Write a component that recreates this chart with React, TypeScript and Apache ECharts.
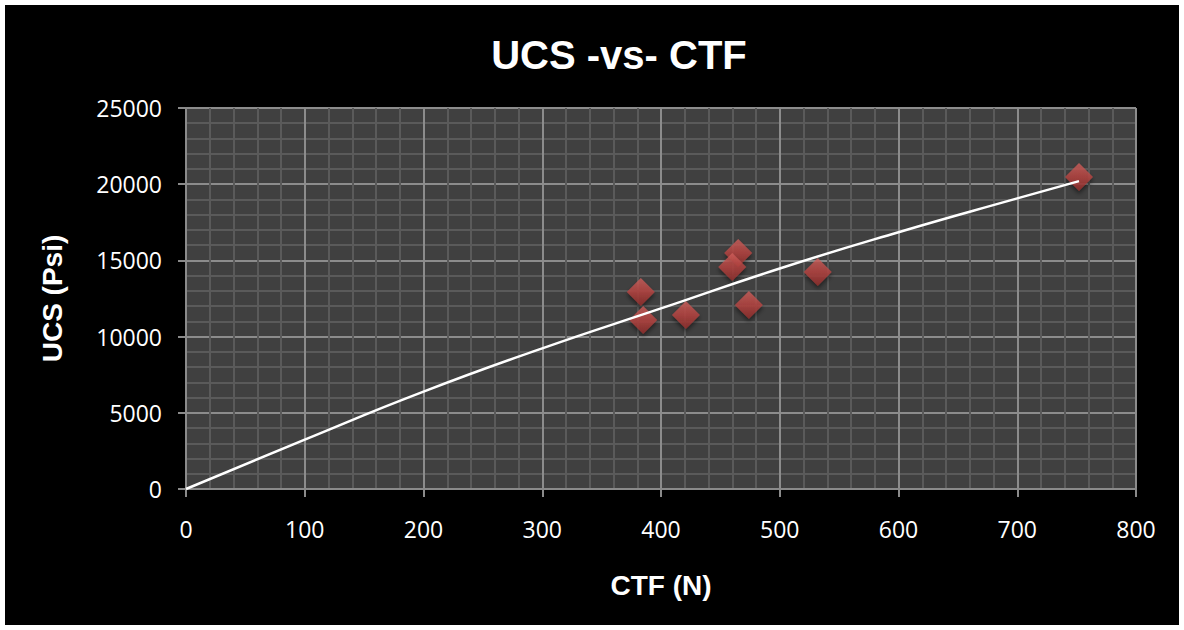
import React, { useEffect, useRef } from "react";
import * as echarts from "echarts";

const titleText = "UCS -vs- CTF";
const xName = "CTF (N)";
const yName = "UCS (Psi)";

const ctf = [383, 385, 421, 465, 460, 474, 532, 752];
const ucs = [12930, 11090, 11420, 15490, 14570, 12070, 14240, 20470];

const trendX = [0, 100, 200, 300, 400, 500, 600, 700, 752];
const trendY = [0, 3240, 6390, 9230, 11850, 14470, 16850, 19070, 20200];

const xTicks = { min: 0, max: 800, interval: 100 };
const yTicks = { min: 0, max: 25000, interval: 5000 };

export default function App() {
  const ref = useRef<HTMLDivElement>(null);
  useEffect(() => {
    if (!ref.current) return;
    const chart = echarts.init(ref.current, null, { renderer: "svg" });
    const tickFont = { color: "#ffffff", fontFamily: "Open Sans", fontSize: 23 };
    const nameFont = { color: "#ffffff", fontFamily: "Liberation Sans", fontSize: 28, fontWeight: "bold" as const };
    chart.setOption({
      animation: false,
      backgroundColor: "#ffffff",
      graphic: [
        { type: "rect", z: -10, shape: { x: 5, y: 5, width: 1174, height: 620 }, style: { fill: "#000000" } },
      ],
      title: {
        text: titleText,
        left: 614,
        textAlign: "center",
        top: 30,
        textStyle: { color: "#ffffff", fontFamily: "Liberation Sans", fontSize: 40, fontWeight: "bold" },
      },
      grid: {
        left: 186,
        right: 48,
        top: 108,
        bottom: 141,
        show: true,
        backgroundColor: "#404040",
        borderWidth: 0,
      },
      xAxis: {
        type: "value",
        min: xTicks.min,
        max: xTicks.max,
        interval: xTicks.interval,
        name: xName,
        nameLocation: "middle",
        nameGap: 82,
        nameTextStyle: nameFont,
        axisLine: { show: true, lineStyle: { color: "#8a8a8a", width: 2 } },
        axisTick: { show: true, length: 8, lineStyle: { color: "#8a8a8a", width: 2 } },
        axisLabel: { ...tickFont, margin: 28, formatter: (v: number) => String(v) },
        splitLine: { show: true, lineStyle: { color: "#8c8c8c", width: 2 } },
        minorTick: { show: false, splitNumber: 5 },
        minorSplitLine: { show: true, lineStyle: { color: "#5a5a5a", width: 2 } },
      },
      yAxis: {
        type: "value",
        min: yTicks.min,
        max: yTicks.max,
        interval: yTicks.interval,
        name: yName,
        nameLocation: "middle",
        nameGap: 120,
        nameRotate: 90,
        nameTextStyle: nameFont,
        axisLine: { show: true, lineStyle: { color: "#8a8a8a", width: 2 } },
        axisTick: { show: true, length: 8, lineStyle: { color: "#8a8a8a", width: 2 } },
        axisLabel: { ...tickFont, margin: 24, formatter: (v: number) => String(v) },
        splitLine: { show: true, lineStyle: { color: "#8c8c8c", width: 2 } },
        minorTick: { show: false, splitNumber: 5 },
        minorSplitLine: { show: true, lineStyle: { color: "#5a5a5a", width: 2 } },
      },
      series: [
        {
          type: "scatter",
          data: ctf.map((x, i) => [x, ucs[i]]),
          symbol: "diamond",
          symbolSize: [28, 28],
          itemStyle: {
            color: new echarts.graphic.LinearGradient(0, 0, 0, 1, [
              { offset: 0, color: "#d0605c" },
              { offset: 0.5, color: "#b84542" },
              { offset: 1, color: "#8e2d2b" },
            ]),
            shadowBlur: 4,
            shadowColor: "rgba(0,0,0,0.6)",
            shadowOffsetY: 3,
          },
          z: 2,
        },
        {
          type: "line",
          data: trendX.map((x, i) => [x, trendY[i]]),
          smooth: true,
          symbol: "none",
          lineStyle: { color: "#ffffff", width: 2.5 },
          z: 3,
        },
      ],
    });
    return () => chart.dispose();
  }, []);
  return <div ref={ref} style={{ position: "absolute", left: 0, top: 0, width: 1184, height: 630 }} />;
}
